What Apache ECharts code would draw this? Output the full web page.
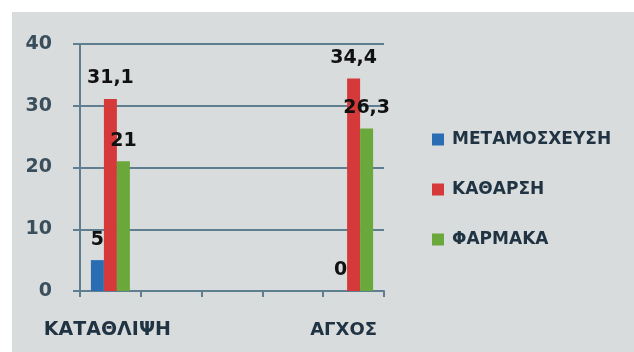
<!DOCTYPE html>
<html>
<head>
<meta charset="utf-8">
<script src="https://cdn.jsdelivr.net/npm/echarts@6/dist/echarts.min.js"></script>
<style>
  html, body { margin: 0; padding: 0; background: #ffffff; }
  #chart { width: 634px; height: 352px; }
</style>
</head>
<body>
<div id="chart"></div>
<script>
// Categories: only the first and last carry data, the middle slots stay empty
const categories = ['ΚΑΤΑΘΛΙΨΗ', '', '', '', 'ΑΓΧΟΣ'];
const seriesNames = ['ΜΕΤΑΜΟΣΧΕΥΣΗ', 'ΚΑΘΑΡΣΗ', 'ΦΑΡΜΑΚΑ'];
const transplantValues = [5, null, null, null, 0];
const catharsisValues = [31.1, null, null, null, 34.4];
const drugValues = [21, null, null, null, 26.3];
const yTicks = [0, 10, 20, 30, 40];

const colors = ['#2b6db3', '#d5393a', '#6aa83c'];
const gridColor = '#5f7f91';
const textColor = '#1f3342';
const fontFamily = '"DejaVu Sans", Verdana, sans-serif';

const chart = echarts.init(document.getElementById('chart'));

function commaLabel(p) {
  return String(p.value).replace('.', ',');
}

function makeSeries(name, values, color) {
  return {
    name: name,
    type: 'bar',
    data: values,
    barWidth: 13,
    barGap: '0%',
    itemStyle: { color: color },
    label: {
      show: true,
      position: 'top',
      distance: 11,
      formatter: commaLabel,
      color: '#111111',
      fontSize: 19,
      fontWeight: 'bold',
      fontFamily: fontFamily
    }
  };
}

chart.setOption({
  animation: false,
  backgroundColor: '#ffffff',
  graphic: [
    {
      type: 'rect',
      left: 12, top: 12, z: -10,
      shape: { width: 622, height: 340 },
      style: { fill: '#d9dcdd' }
    }
  ],
  color: colors,
  legend: {
    orient: 'vertical',
    left: 427,
    top: 126,
    itemWidth: 12,
    itemHeight: 12,
    itemGap: 33,
    icon: 'rect',
    data: seriesNames,
    textStyle: {
      color: textColor,
      fontSize: 17,
      fontWeight: 'bold',
      fontFamily: fontFamily,
      padding: [0, 0, 0, 3]
    }
  },
  grid: { left: 80, right: 250, top: 44, bottom: 61 },
  xAxis: {
    type: 'category',
    data: categories,
    axisLine: { show: true, lineStyle: { color: gridColor, width: 2 } },
    axisTick: { show: true, length: 6, lineStyle: { color: gridColor, width: 2 } },
    axisLabel: {
      margin: 30,
      color: textColor,
      fontSize: 19,
      fontWeight: 'bold',
      fontFamily: fontFamily,
      interval: 0,
      formatter: function (v, i) {
        if (i === 0) return '{a|' + v + '}';
        if (i === 4) return '{b|' + v + '}';
        return v;
      },
      rich: {
        a: { fontSize: 19, fontWeight: 'bold', color: textColor, fontFamily: fontFamily, padding: [0, 6, 0, 0] },
        b: { fontSize: 18, fontWeight: 'bold', color: textColor, fontFamily: fontFamily, padding: [0, 20, 0, 0] }
      }
    }
  },
  yAxis: {
    type: 'value',
    min: yTicks[0],
    max: yTicks[yTicks.length - 1],
    interval: 10,
    axisLine: { show: true, lineStyle: { color: gridColor, width: 2 } },
    axisTick: { show: true, length: 7, lineStyle: { color: gridColor, width: 2 } },
    splitLine: { show: true, lineStyle: { color: gridColor, width: 2 } },
    axisLabel: {
      margin: 28,
      color: '#3a4e5b',
      fontSize: 19,
      fontWeight: 'bold',
      fontFamily: fontFamily
    }
  },
  series: [
    makeSeries(seriesNames[0], transplantValues, colors[0]),
    makeSeries(seriesNames[1], catharsisValues, colors[1]),
    makeSeries(seriesNames[2], drugValues, colors[2])
  ]
});
</script>
</body>
</html>
